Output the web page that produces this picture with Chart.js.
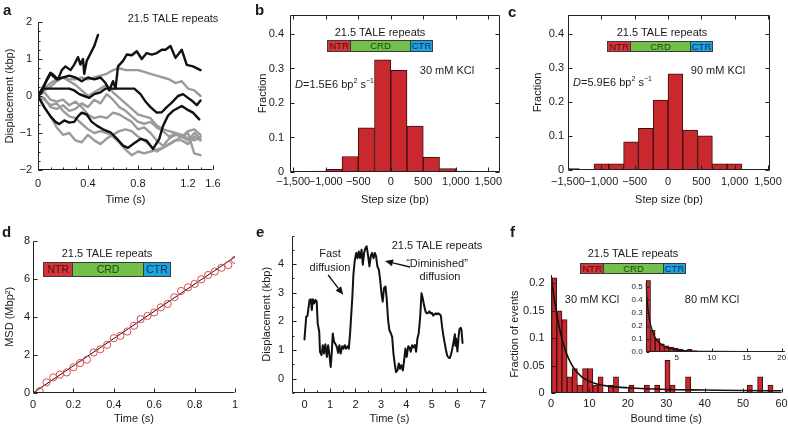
<!DOCTYPE html>
<html><head><meta charset="utf-8">
<script src="https://cdn.jsdelivr.net/npm/chart.js@4.4.1/dist/chart.umd.min.js"></script>
<style>
html,body{margin:0;padding:0;background:#fff;}
#fig{position:relative;width:788px;height:426px;overflow:hidden;font-family:'Liberation Sans',Arial,sans-serif;color:#1a1a1a;background:#fff;}
#fig canvas{position:absolute;}
.t{position:absolute;white-space:nowrap;transform:translate(-50%,-50%);font-size:11px;line-height:1;}
.tl{position:absolute;white-space:nowrap;transform:translate(0,-50%);font-size:11px;line-height:1;}
.lbl{position:absolute;font-weight:bold;font-size:15px;line-height:1;}
.dom{position:absolute;box-sizing:border-box;border:1px solid #3a3a3a;line-height:1;display:flex;align-items:center;justify-content:center;}
sup{font-size:7px;vertical-align:5px;line-height:0;}
</style></head><body><div id="fig"></div>
<script>
// ================= DATA =================
// Panel a: single-molecule trajectories (time s, displacement kbp)
const aTime = [0,0.05,0.1,0.15,0.2,0.25,0.3,0.35,0.4,0.45,0.5,0.55,0.6,0.65,0.7,0.75,0.8,0.85,0.9,0.95,1.0,1.05,1.1,1.15,1.2,1.25,1.3];
const aGray1 = [0,0.15,0.25,0.4,0.5,0.45,0.45,0.5,0.45,0.5,0.55,0.6,0.7,0.75,0.7,0.7,0.7,0.65,0.6,0.55,0.5,0.45,0.35,0.4,0.2,0.15,0.0];
const aGray2 = [0,-0.05,-0.3,-0.35,-0.25,-0.4,-0.35,-0.2,-0.3,-0.1,-0.2,0.05,-0.1,-0.3,-0.4,-0.55,-0.7,-0.75,-0.7,-0.85,-0.95,-1.1,-1.0,-1.1,-1.2,-1.0,-1.15];
const aGray3 = [0,-0.3,-0.55,-0.85,-1.05,-1.0,-1.2,-1.25,-1.05,-1.2,-1.3,-1.15,-1.05,-0.95,-0.9,-0.95,-1.1,-1.2,-1.35,-1.5,-1.4,-1.3,-1.2,-1.2,-1.3,-1.1,-1.2];
const aGray4 = [0,-0.1,-0.25,-0.2,-0.4,-0.55,-0.6,-0.75,-0.9,-1.0,-0.95,-1.0,-1.1,-1.25,-1.45,-1.6,-1.5,-1.55,-1.5,-1.45,-1.4,-1.3,-1.2,-1.1,-1.0,-1.55,-1.6];
const aGray5 = [0,0.1,-0.1,-0.15,-0.1,-0.25,-0.15,-0.3,-0.5,-0.6,-0.55,-0.6,-0.45,-0.5,-0.6,-0.7,-0.9,-0.85,-1.0,-1.2,-1.35,-1.15,-1.05,-1.1,-0.95,-0.9,-1.05];
const aGray6 = [0,0.2,0.35,0.45,0.5,0.4,0.3,0.15,0.0,0.1,0.2,0.3,0.1,-0.05,-0.2,-0.35,-0.5,-0.55,-0.6,-0.8,-0.9,-0.95,-1.0,-1.05,-1.15,-1.2,-1.1];
const aBlk1T = [0,0.03,0.07,0.1,0.12,0.16,0.19,0.22,0.26,0.29,0.32,0.34,0.36,0.37,0.39,0.42,0.45,0.48];
const aBlk1V = [0,0.1,0.45,0.63,0.58,0.45,0.7,0.8,0.7,0.85,1.05,0.85,1.0,0.6,0.95,1.15,1.35,1.65];
const aBlk2T = [0,0.05,0.1,0.15,0.2,0.25,0.3,0.35,0.4,0.45,0.5,0.54,0.57,0.6,0.62,0.64,0.68,0.71,0.75,0.79,0.83,0.87,0.91,0.95,0.99,1.02,1.06,1.1,1.15,1.19,1.24,1.3];
const aBlk2V = [0,0.3,0.6,0.45,0.5,0.55,0.5,0.4,0.5,0.45,0.5,0.35,0.15,0.4,0.2,0.8,0.95,1.12,1.1,1.21,1.0,1.16,1.12,1.16,1.25,1.25,1.35,1.03,1.25,0.84,0.8,0.7];
const aBlk3T = [0,0.04,0.1,0.2,0.25,0.29,0.33,0.37,0.41,0.45,0.5,0.54,0.6,0.7,0.77,0.82,0.86,0.9,0.95,0.99,1.03,1.07,1.12,1.16,1.2,1.24,1.27,1.3];
const aBlk3V = [0,0.2,0.2,0.2,0.2,0.15,0.05,0.0,-0.05,0.05,0.1,0.2,0.2,0.2,0.2,0.05,-0.15,-0.3,-0.45,-0.44,-0.3,-0.18,0.0,0.05,-0.05,-0.15,-0.25,-0.12];
const aBlk4T = [0,0.05,0.1,0.14,0.17,0.21,0.25,0.29,0.32,0.35,0.39,0.43,0.47,0.52,0.58,0.63,0.68,0.72,0.76,0.82,0.87,0.92,0.97,1.0,1.04,1.08,1.15,1.19,1.24,1.29];
const aBlk4V = [0,-0.3,-0.55,-0.7,-0.76,-0.66,-0.72,-0.7,-0.55,-0.45,-0.5,-0.7,-0.8,-0.9,-0.98,-1.15,-1.34,-1.4,-1.3,-1.16,-1.21,-1.43,-1.16,-0.81,-0.53,-0.4,-0.27,-0.36,-0.45,-0.63];
const aXTickValues = [0,0.4,0.8,1.2,1.4];
const aXTickLabels = ['0','0.4','0.8','1.2','1.6'];
const aYTickValues = [-2,-1,0,1,2];
const aYTickLabels = ['\u22122','\u22121','0','1','2'];

// Panel b: step-size histogram, 30 mM KCl
const bStepCenters = [-1375,-1125,-875,-625,-375,-125,125,375,625,875,1125,1375];
const bFraction = [0.001,0.003,0.008,0.045,0.128,0.325,0.295,0.133,0.043,0.01,0.003,0.001];
// Panel c: step-size histogram, 90 mM KCl
const cStepCenters = [-1443,-1221,-999,-777,-555,-333,-111,111,333,555,777,999,1221,1443];
const cFraction = [0.004,0.001,0.018,0.018,0.083,0.122,0.205,0.282,0.117,0.1,0.018,0.018,0.001,0.001];
const stepTickValues = [-1500,-1000,-500,0,500,1000,1500];
const stepTickLabels = ['\u22121,500','\u22121,000','\u2212500','0','500','1,000','1,500'];
const fracTickValues = [0,0.1,0.2,0.3,0.4];
const fracTickLabels = ['0','0.1','0.2','0.3','0.4'];

// Panel d: MSD vs time
const dTime = [0.033,0.067,0.1,0.133,0.167,0.2,0.233,0.267,0.3,0.333,0.367,0.4,0.433,0.467,0.5,0.533,0.567,0.6,0.633,0.667,0.7,0.733,0.767,0.8,0.833,0.867,0.9,0.933,0.967,1.0];
const dMSD = [0.1,0.56,0.82,0.96,1.08,1.35,1.57,1.75,2.13,2.3,2.53,2.88,3.0,3.23,3.53,3.88,4.05,4.23,4.5,4.68,5.03,5.36,5.55,5.73,5.97,6.2,6.38,6.58,6.72,6.99];
const dFitTime = [0,1];
const dFitMSD = [0,7.15];
const dXTickValues = [0,0.2,0.4,0.6,0.8,1];
const dXTickLabels = ['0','0.2','0.4','0.6','0.8','1'];
const dYTickValues = [0,2,4,6,8];
const dYTickLabels = ['0','2','4','6','8'];

// Panel e: long trajectory
const eTime = [0,0.07,0.12,0.2,0.25,0.29,0.33,0.38,0.43,0.48,0.52,0.58,0.61,0.67,0.72,0.77,0.82,0.88,0.93,0.98,1.03,1.07,1.11,1.16,1.22,1.27,1.32,1.37,1.42,1.48,1.53,1.58,1.63,1.69,1.74,1.79,1.83,1.88,1.92,1.97,2.03,2.08,2.13,2.18,2.24,2.29,2.34,2.39,2.44,2.5,2.55,2.6,2.65,2.71,2.76,2.81,2.86,2.92,2.97,3.02,3.07,3.12,3.18,3.23,3.28,3.33,3.39,3.44,3.49,3.54,3.59,3.65,3.7,3.75,3.8,3.86,3.91,3.96,4.01,4.07,4.12,4.17,4.22,4.27,4.33,4.38,4.43,4.48,4.54,4.59,4.64,4.69,4.75,4.8,4.85,4.9,4.95,5.0,5.05,5.1,5.15,5.2,5.25,5.3,5.35,5.4,5.45,5.5,5.55,5.6,5.65,5.7,5.75,5.8,5.85,5.9,5.92,5.95,6.0,6.05,6.08,6.13,6.16,6.2];
const eDisp = [1.37,2.16,2.2,2.75,2.77,2.4,2.77,2.63,2.75,2.7,1.93,1.64,0.94,0.82,1.17,0.88,1.2,0.76,1.17,0.82,0.41,0.88,1.58,1.29,1.2,1.11,0.9,1.17,0.88,1.13,1.05,1.17,1.05,1.13,1.05,1.58,2.16,2.87,3.63,4.1,4.39,4.21,4.44,4.21,4.5,3.98,4.39,4.56,4.62,4.27,3.92,4.27,4.39,4.21,4.39,4.27,3.92,3.8,3.45,2.98,2.69,3.16,3.22,2.75,2.05,1.7,1.58,1.46,0.88,0.53,0.23,0.29,0.53,0.35,0.47,0.29,0.64,1.05,0.76,1.13,1.09,0.94,1.17,1.09,1.17,0.94,1.4,1.58,2.16,2.98,2.81,2.57,2.34,2.28,2.3,2.35,2.28,2.3,2.2,2.25,2.28,2.25,2.28,2.25,2.2,1.8,1.5,1.25,1.0,0.8,0.74,0.72,0.85,1.05,1.3,1.55,1.15,1.4,0.95,1.5,1.72,1.78,1.7,1.25];
const eXTickValues = [0,1,2,3,4,5,6,7];
const eXTickLabels = ['0','1','2','3','4','5','6','7'];
const eYTickValues = [0,1,2,3,4];
const eYTickLabels = ['0','1','2','3','4'];

// Panel f: bound-time histogram 30 mM KCl (non-empty bins)
const fBinCenters = [0.84,2.18,3.52,4.86,6.2,7.54,8.88,10.22,11.56,12.9,15.58,16.92,20.94,24.96,27.64,30.32,31.66,35.68,51.76,54.44,57.12];
const fFraction = [0.21,0.15,0.134,0.03,0.045,0.015,0.045,0.045,0.015,0.03,0.015,0.03,0.015,0.015,0.015,0.06,0.015,0.03,0.015,0.03,0.015];
const fFitTime = [0,1,2,3,4,5,6,8,10,12,15,20,30,40,50,60];
const fFitFrac = [0.215,0.165,0.125,0.095,0.073,0.057,0.045,0.03,0.022,0.017,0.013,0.01,0.007,0.006,0.005,0.0045];
const fXTickValues = [0,10,20,30,40,50,60];
const fXTickLabels = ['0','10','20','30','40','50','60'];
const fYTickValues = [0,0.05,0.1,0.15,0.2];
const fYTickLabels = ['0','0.05','0.1','0.15','0.2'];
// Panel f inset: 80 mM KCl
const gBinCenters = [0.93,1.59,2.25,2.91,3.57,4.23,4.89,5.55,6.21,6.87,7.53,8.19,8.85,9.51,10.17];
const gFraction = [0.55,0.165,0.1,0.06,0.045,0.035,0.025,0.02,0.012,0.018,0.006,0.004,0.003,0.003,0.002];
const gFitTime = [0.6,0.8,1.0,1.3,1.6,2.0,2.5,3.0,3.5,4.0,5.0,6.0,8.0,10,15,20.5];
const gFitFrac = [0.52,0.38,0.28,0.2,0.15,0.1,0.07,0.05,0.035,0.025,0.013,0.007,0.003,0.002,0.001,0.001];
const gXTickValues = [5,10,15,20];
const gXTickLabels = ['5','10','15','20'];
const gYTickValues = [0,0.1,0.2,0.3,0.4,0.5];
const gYTickLabels = ['0.0','0.1','0.2','0.3','0.4','0.5'];

// ================= RENDERING =================
const FONT = "'Liberation Sans', Arial, sans-serif";
Chart.defaults.font.family = FONT;
Chart.defaults.font.size = 11;
Chart.defaults.color = '#1a1a1a';
const fig = document.getElementById('fig');
const pts = (xs, ys) => xs.map((x, i) => ({x: x, y: ys[i]}));
const BAR_FILL = '#c8282e', BAR_EDGE = '#3a0e0e';

const inwardAxes = {
  id: 'inwardAxes',
  afterDatasetsDraw(chart, args, o) {
    const {ctx, chartArea: ca, scales} = chart;
    const xs = scales.x, ys = scales.y;
    const L = Math.round(ca.left) + 0.5, R = Math.round(ca.right) - 0.5;
    const T = Math.round(ca.top) + 0.5, B = Math.round(ca.bottom) - 0.5;
    ctx.save();
    ctx.strokeStyle = '#222'; ctx.lineWidth = 1;
    ctx.beginPath();
    ctx.moveTo(L, T); ctx.lineTo(L, B); ctx.lineTo(R, B);
    if (o.box) { ctx.lineTo(R, T); ctx.lineTo(L, T); }
    ctx.stroke();
    const maj = o.major || 4, mn = o.minor || 2;
    const dx = (v, len) => { const p = Math.round(xs.getPixelForValue(v)) + 0.5; ctx.moveTo(p, B); ctx.lineTo(p, B - len); if (o.box) { ctx.moveTo(p, T); ctx.lineTo(p, T + len); } };
    const dy = (v, len) => { const p = Math.round(ys.getPixelForValue(v)) + 0.5; ctx.moveTo(L, p); ctx.lineTo(L + len, p); if (o.box) { ctx.moveTo(R, p); ctx.lineTo(R - len, p); } };
    ctx.beginPath();
    (o.xMajor || []).forEach(v => dx(v, maj));
    (o.yMajor || []).forEach(v => dy(v, maj));
    if (o.xMinor) for (let k = Math.ceil(xs.min / o.xMinor - 1e-9); k * o.xMinor <= xs.max + 1e-9; k++) dx(k * o.xMinor, mn);
    if (o.yMinor) for (let k = Math.ceil(ys.min / o.yMinor - 1e-9); k * o.yMinor <= ys.max + 1e-9; k++) dy(k * o.yMinor, mn);
    ctx.stroke();
    ctx.restore();
  }
};
const arrowsPlugin = {
  id: 'arrows',
  afterDatasetsDraw(chart, args, o) {
    if (!o.items) return;
    const {ctx, scales: {x, y}} = chart;
    ctx.save(); ctx.strokeStyle = '#111'; ctx.fillStyle = '#111'; ctx.lineWidth = 1.3;
    o.items.forEach(a => {
      const x0 = x.getPixelForValue(a[0]), y0 = y.getPixelForValue(a[1]);
      const x1 = x.getPixelForValue(a[2]), y1 = y.getPixelForValue(a[3]);
      const ang = Math.atan2(y1 - y0, x1 - x0), hl = 8, hw = 3.5;
      const bx = x1 - hl * Math.cos(ang), by = y1 - hl * Math.sin(ang);
      ctx.beginPath(); ctx.moveTo(x0, y0); ctx.lineTo(bx, by); ctx.stroke();
      ctx.beginPath(); ctx.moveTo(x1, y1);
      ctx.lineTo(bx + hw * Math.sin(ang), by - hw * Math.cos(ang));
      ctx.lineTo(bx - hw * Math.sin(ang), by + hw * Math.cos(ang));
      ctx.closePath(); ctx.fill();
    });
    ctx.restore();
  }
};

function axis(o) {
  const font = {size: o.fs || 11, family: FONT};
  return {
    type: 'linear', min: o.min, max: o.max, offset: false,
    grid: {display: false, drawTicks: false}, border: {display: false},
    afterBuildTicks: s => { s.ticks = o.vals.map(v => ({value: v})); },
    afterFit: s => { if (o.h !== undefined) s.height = o.h; if (o.w !== undefined) s.width = o.w; },
    ticks: {padding: o.pad, maxRotation: 0, minRotation: 0, autoSkip: false, font: font, color: '#1a1a1a',
            callback: (v, i) => o.labels[i]},
    title: o.title ? {display: true, text: o.title, color: '#1a1a1a', font: {size: 11, family: FONT},
                      padding: o.tpad} : {display: false}
  };
}

function panel(rect, plot, type, datasets, xo, yo, plug) {
  const c = document.createElement('canvas');
  c.width = rect.w; c.height = rect.h;
  c.style.left = rect.x + 'px'; c.style.top = rect.y + 'px';
  c.style.width = rect.w + 'px'; c.style.height = rect.h + 'px';
  fig.appendChild(c);
  xo.h = rect.y + rect.h - plot.b;
  yo.w = plot.l - rect.x;
  return new Chart(c, {
    type: type,
    data: {datasets: datasets},
    options: {
      responsive: false, animation: false, devicePixelRatio: 1,
      layout: {padding: {left: 0, bottom: 0, top: plot.t - rect.y, right: rect.x + rect.w - plot.r}},
      scales: {x: axis(xo), y: axis(yo)},
      plugins: Object.assign({legend: {display: false}, tooltip: {enabled: false}}, plug)
    },
    plugins: [inwardAxes, arrowsPlugin]
  });
}

const lineDs = (t, v, color, w, smooth) => ({type: 'line', data: pts(t, v), borderColor: color, borderWidth: w,
  pointRadius: 0, tension: 0, cubicInterpolationMode: smooth ? 'monotone' : 'default',
  borderJoinStyle: 'round', borderCapStyle: 'round', fill: false});
const barDs = (t, v) => ({type: 'bar', data: pts(t, v), backgroundColor: BAR_FILL, borderColor: BAR_EDGE,
  borderWidth: 1, barPercentage: 1, categoryPercentage: 1, borderSkipped: 'start'});

// ---- a ----
const BLACK = '#111', GRAY = '#9b9b9b';
panel({x: 0, y: 0, w: 240, h: 209}, {l: 38, t: 22, r: 213, b: 170}, 'line',
  [lineDs(aBlk1T, aBlk1V, BLACK, 2.4), lineDs(aBlk2T, aBlk2V, BLACK, 2.4), lineDs(aBlk3T, aBlk3V, BLACK, 2.4), lineDs(aBlk4T, aBlk4V, BLACK, 2.4),
   lineDs(aTime, aGray1, GRAY, 2.4), lineDs(aTime, aGray2, GRAY, 2.4), lineDs(aTime, aGray3, GRAY, 2.4),
   lineDs(aTime, aGray4, GRAY, 2.4), lineDs(aTime, aGray5, GRAY, 2.4), lineDs(aTime, aGray6, GRAY, 2.4)],
  {min: 0, max: 1.4, vals: aXTickValues, labels: aXTickLabels, pad: 7, title: 'Time (s)', tpad: {top: 0, bottom: 2}},
  {min: -2, max: 2, vals: aYTickValues, labels: aYTickLabels, pad: 6, title: 'Displacement (kbp)', tpad: {top: 3, bottom: 0}},
  {inwardAxes: {box: false, xMajor: aXTickValues, yMajor: aYTickValues, xMinor: 0.1, yMinor: 0.25}});

// ---- b ----
panel({x: 255, y: 0, w: 275, h: 209}, {l: 290, t: 15, r: 500, b: 172}, 'bar',
  [barDs(bStepCenters, bFraction)],
  {min: -1550, max: 1680, vals: stepTickValues, labels: stepTickLabels, pad: 3, title: 'Step size (bp)', tpad: {top: 0, bottom: 2}},
  {min: 0, max: 0.455, vals: fracTickValues, labels: fracTickLabels, pad: 6, title: 'Fraction', tpad: {top: 1.4, bottom: 0}},
  {inwardAxes: {box: true, xMajor: stepTickValues, yMajor: fracTickValues}});

// ---- c ----
panel({x: 530, y: 0, w: 275, h: 209}, {l: 568, t: 15, r: 770, b: 170}, 'bar',
  [barDs(cStepCenters, cFraction)],
  {min: -1500, max: 1530, vals: stepTickValues, labels: stepTickLabels, pad: 5, title: 'Step size (bp)', tpad: {top: 0, bottom: 2}},
  {min: 0, max: 0.455, vals: fracTickValues, labels: fracTickLabels, pad: 4, title: 'Fraction', tpad: {top: 1.4, bottom: 0}},
  {inwardAxes: {box: true, xMajor: stepTickValues, yMajor: fracTickValues}});

// ---- d ----
panel({x: 0, y: 222, w: 250, h: 204}, {l: 33, t: 240.7, r: 235, b: 393}, 'scatter',
  [{type: 'scatter', data: pts(dTime, dMSD), pointStyle: 'circle', pointRadius: 3.6, pointBorderWidth: 1,
    pointBorderColor: '#e2474d', pointBackgroundColor: 'rgba(0,0,0,0)', borderColor: '#e2474d', backgroundColor: 'rgba(0,0,0,0)', showLine: false},
   {type: 'line', data: pts(dFitTime, dFitMSD), borderColor: '#111', borderWidth: 1, pointRadius: 0, fill: false}],
  {min: 0, max: 1, vals: dXTickValues, labels: dXTickLabels, pad: 5, title: 'Time (s)', tpad: {top: 0, bottom: 0.5}},
  {min: 0, max: 8, vals: dYTickValues, labels: dYTickLabels, pad: 3, title: 'MSD (Mbp\u00B2)', tpad: {top: 3.4, bottom: 0}},
  {inwardAxes: {box: false, xMajor: dXTickValues, yMajor: dYTickValues}});

// ---- e ----
panel({x: 255, y: 220, w: 250, h: 206}, {l: 291.7, t: 235.5, r: 487, b: 393}, 'line',
  [lineDs(eTime, eDisp, BLACK, 2)],
  {min: -0.5, max: 7.16, vals: eXTickValues, labels: eXTickLabels, pad: 5, title: 'Time (s)', tpad: {top: 0, bottom: 0.5}},
  {min: -0.5, max: 5, vals: eYTickValues, labels: eYTickLabels, pad: 7.5, title: 'Displacement (kbp)', tpad: {top: 5.4, bottom: 0}},
  {inwardAxes: {box: false, xMajor: eXTickValues, yMajor: eYTickValues, xMinor: 0.5, yMinor: 0.5},
   arrows: {items: [[0.93, 3.62, 1.52, 2.93], [4.14, 3.9, 3.16, 4.11]]}});

// ---- f ----
panel({x: 505, y: 222, w: 300, h: 204}, {l: 551, t: 275, r: 781.5, b: 393.3}, 'bar',
  [lineDs(fFitTime, fFitFrac, BLACK, 1.6, true), barDs(fBinCenters, fFraction)],
  {min: 0, max: 60, vals: fXTickValues, labels: fXTickLabels, pad: 4, title: 'Bound time (s)', tpad: {top: 0, bottom: 0}},
  {min: 0, max: 0.215, vals: fYTickValues, labels: fYTickLabels, pad: 6.5, title: 'Fraction of events', tpad: {top: 3.4, bottom: 0}},
  {inwardAxes: {box: false, xMajor: fXTickValues, yMajor: fYTickValues}});
// ---- f inset ----
panel({x: 615, y: 270, w: 190, h: 100}, {l: 645.7, t: 280.2, r: 785, b: 351.7}, 'bar',
  [lineDs(gFitTime, gFitFrac, BLACK, 1.3, true), barDs(gBinCenters, gFraction)],
  {min: 0.57, max: 20.47, vals: gXTickValues, labels: gXTickLabels, pad: 1, fs: 8},
  {min: 0, max: 0.55, vals: gYTickValues, labels: gYTickLabels, pad: 3, fs: 8},
  {inwardAxes: {box: false, xMajor: gXTickValues, yMajor: gYTickValues, major: 3}});

// ================= TEXT OVERLAYS =================
function txt(html, x, y, cls, extra) {
  const d = document.createElement('div');
  d.className = cls || 't'; d.innerHTML = html;
  d.style.left = x + 'px'; d.style.top = y + 'px';
  if (extra) Object.assign(d.style, extra);
  fig.appendChild(d); return d;
}
function domain(x0, x1, x2, x3, y0, y1, fs) {
  const parts = [['NTR', x0, x1, '#d3363b', '#5c0a0a'], ['CRD', x1, x2, '#72bf4a', '#1f4a12'], ['CTR', x2, x3, '#1fa3dd', '#0b3366']];
  parts.forEach(p => {
    const d = document.createElement('div');
    d.className = 'dom'; d.textContent = p[0];
    Object.assign(d.style, {left: p[1] + 'px', top: y0 + 'px', width: (p[2] - p[1] + 1) + 'px', height: (y1 - y0) + 'px',
      background: p[3], color: p[4], fontSize: fs + 'px'});
    fig.appendChild(d);
  });
}
// panel letters
[['a', 3, 2], ['b', 255, 2], ['c', 508, 4], ['d', 2, 224], ['e', 256, 224], ['f', 510, 224]]
  .forEach(l => txt(l[0], l[1], l[2], 'lbl'));
// a
txt('21.5 TALE repeats', 173, 18);
// b
txt('21.5 TALE repeats', 380, 32);
domain(327, 350, 410, 432, 40, 52, 9.5);
txt('30 mM KCl', 447, 70);
txt('<i>D</i>=1.5E6 bp<sup>2</sup> s<sup>\u22121</sup>', 295, 84, 'tl');
// c
txt('21.5 TALE repeats', 662, 32);
domain(607, 630, 690, 712, 41, 52, 9.5);
txt('90 mM KCl', 718, 70);
txt('<i>D</i>=5.9E6 bp<sup>2</sup> s<sup>\u22121</sup>', 573, 82, 'tl');
// d
txt('21.5 TALE repeats', 107, 253);
domain(43, 72, 143, 170, 262, 277, 10.5);
// e
txt('Fast', 330, 253);
txt('diffusion', 330, 267);
txt('21.5 TALE repeats', 437, 245);
txt('\u201CDiminished\u201D', 437, 263);
txt('diffusion', 440, 276);
// f
txt('21.5 TALE repeats', 633, 253);
domain(580, 603, 663, 685, 263, 274, 9.5);
txt('30 mM KCl', 592, 299);
txt('80 mM KCl', 712, 299);
</script></body></html>
